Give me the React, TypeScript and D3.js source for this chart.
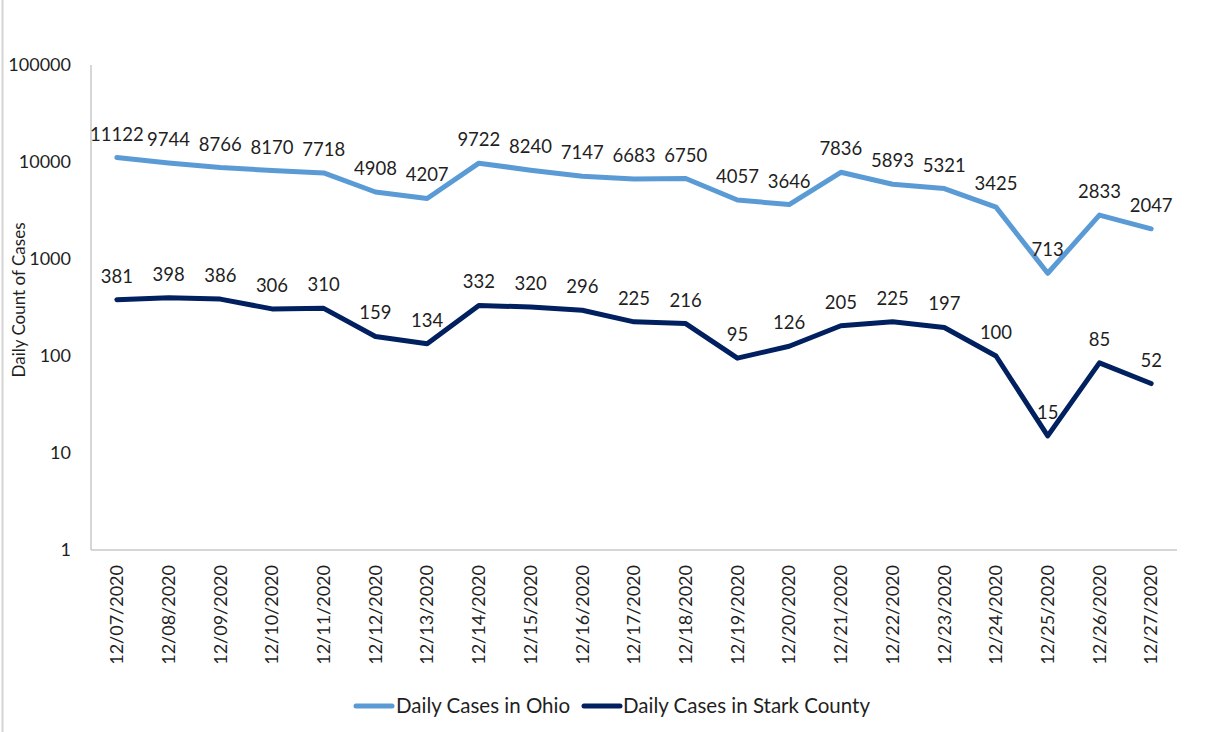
import React from "react";
import * as d3 from "d3";

const dates = [
  "12/07/2020", "12/08/2020", "12/09/2020", "12/10/2020", "12/11/2020", "12/12/2020", "12/13/2020",
  "12/14/2020", "12/15/2020", "12/16/2020", "12/17/2020", "12/18/2020", "12/19/2020", "12/20/2020",
  "12/21/2020", "12/22/2020", "12/23/2020", "12/24/2020", "12/25/2020", "12/26/2020", "12/27/2020",
];
const ohio = [11122, 9744, 8766, 8170, 7718, 4908, 4207, 9722, 8240, 7147, 6683, 6750, 4057, 3646, 7836, 5893, 5321, 3425, 713, 2833, 2047];
const stark = [381, 398, 386, 306, 310, 159, 134, 332, 320, 296, 225, 216, 95, 126, 205, 225, 197, 100, 15, 85, 52];
const yTicks = [1, 10, 100, 1000, 10000, 100000];

const W = 1212;
const H = 732;
const FONT = "Lato, 'Open Sans', sans-serif";
const TEXT = "#1f1f1f";
const OHIO_C = "#5B9BD5";
const STARK_C = "#002060";

export default function App() {
  const x = d3.scaleBand<string>().domain(dates).range([91, 1177]);
  const y = d3.scaleLog().domain([1, 100000]).range([550, 65]);
  const cx = (d: string) => (x(d) as number) + x.bandwidth() / 2;
  const line = d3
    .line<number>()
    .x((_, i) => cx(dates[i]))
    .y((v) => y(v));

  const series = [
    { name: "Daily Cases in Ohio", values: ohio, color: OHIO_C },
    { name: "Daily Cases in Stark County", values: stark, color: STARK_C },
  ];

  return (
    <svg
      width={W}
      height={H}
      style={{ position: "absolute", left: 0, top: 0, background: "#fff" }}
      fontFamily={FONT}
    >
      <line x1={2.5} x2={2.5} y1={0} y2={H} stroke="#d4d4d4" strokeWidth={2} />
      {/* axes */}
      <line x1={91} x2={91} y1={65} y2={550} stroke="#c8c8c8" strokeWidth={1.5} />
      <line x1={91} x2={1177} y1={550} y2={550} stroke="#c8c8c8" strokeWidth={1.5} />
      {yTicks.map((t) => (
        <text key={t} x={71} y={y(t)} dy="0.35em" textAnchor="end" fontSize={18} fill={TEXT}>
          {t}
        </text>
      ))}
      <text
        transform={`translate(25,300) rotate(-90)`}
        textAnchor="middle"
        fontSize={17}
        fill={TEXT}
      >
        Daily Count of Cases
      </text>
      {dates.map((d) => (
        <text
          key={d}
          transform={`translate(${cx(d)},565) rotate(-90)`}
          dy="0.35em"
          textAnchor="end"
          fontSize={18}
          fill={TEXT}
        >
          {d}
        </text>
      ))}
      {series.map((s) => (
        <g key={s.name}>
          <path
            d={line(s.values) || ""}
            fill="none"
            stroke={s.color}
            strokeWidth={5}
            strokeLinejoin="round"
            strokeLinecap="round"
          />
          {s.values.map((v, i) => (
            <text
              key={i}
              x={cx(dates[i])}
              y={y(v) - 17}
              textAnchor="middle"
              fontSize={18.5}
              fill={TEXT}
            >
              {v}
            </text>
          ))}
        </g>
      ))}
      {/* legend */}
      <line x1={356} x2={392} y1={706} y2={706} stroke={OHIO_C} strokeWidth={5} strokeLinecap="round" />
      <text x={396} y={706} dy="0.35em" fontSize={20.5} fill={TEXT}>
        Daily Cases in Ohio
      </text>
      <line x1={584} x2={620} y1={706} y2={706} stroke={STARK_C} strokeWidth={5} strokeLinecap="round" />
      <text x={623} y={706} dy="0.35em" fontSize={20.5} fill={TEXT}>
        Daily Cases in Stark County
      </text>
    </svg>
  );
}
